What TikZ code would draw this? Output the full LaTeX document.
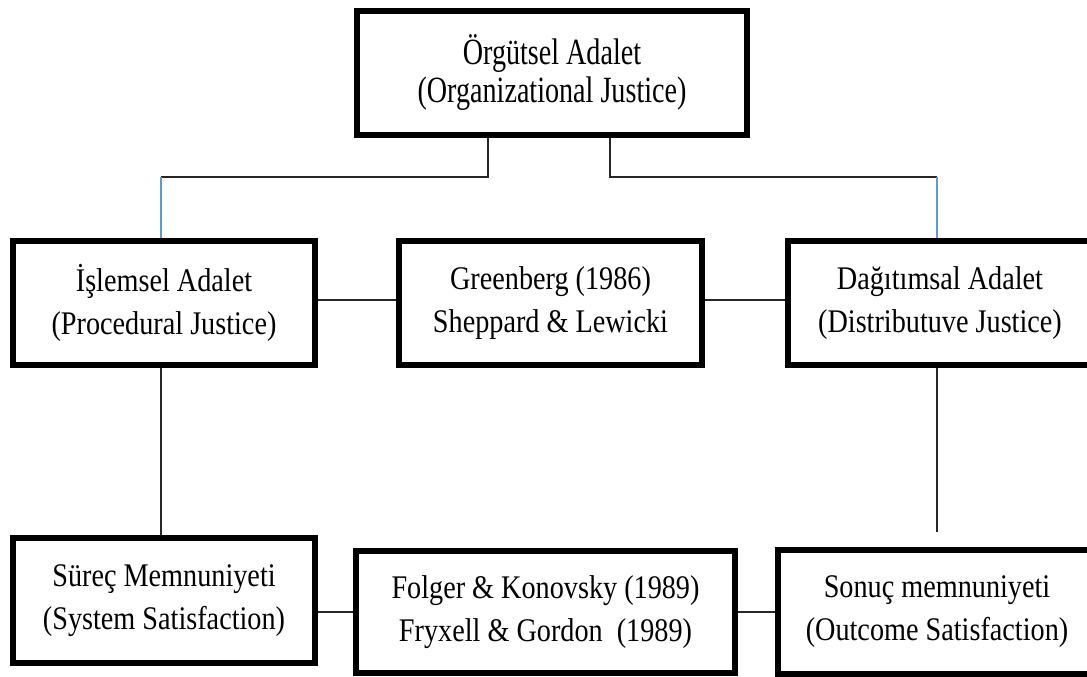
\documentclass[tikz,border=0pt]{standalone}
\usepackage{fontspec}
\setmainfont{Liberation Serif}[FakeStretch=0.855]
\newfontfamily\topboxfont{Liberation Serif}[FakeStretch=0.76]
\usetikzlibrary{calc}
\definecolor{lineblue}{RGB}{91,155,213}
\tikzset{
  box/.style={draw=black, line width=6pt, fill=white, align=center, inner sep=0pt,
    font=\fontsize{33}{43}\selectfont},
  topbox/.style={box, font=\topboxfont\fontsize{37}{38}\selectfont},
  conn/.style={draw=black!85, line width=1.6pt},
  blueconn/.style={draw=lineblue, line width=1.4pt},
}
\begin{document}
\begin{tikzpicture}[x=1pt,y=-1pt]
\useasboundingbox (0,0) rectangle (1087,677);
% boxes
\node[topbox, minimum width=390pt, minimum height=124pt] (top) at (552,73) {Örgütsel Adalet\\(Organizational Justice)};
\node[box, minimum width=302pt, minimum height=124pt] (isl) at (164,303) {İşlemsel Adalet\\(Procedural Justice)};
\node[box, minimum width=303pt, minimum height=124pt] (gr) at (550.5,303) {Greenberg (1986)\\Sheppard \& Lewicki};
\node[box, minimum width=304pt, minimum height=124pt] (dag) at (940,303) {Dağıtımsal Adalet\\(Distributuve Justice)};
\node[box, minimum width=302pt, minimum height=125pt] (sur) at (164,600.5) {Süreç Memnuniyeti\\(System Satisfaction)};
\node[box, minimum width=379pt, minimum height=122pt] (fol) at (545.5,612) {Folger \& Konovsky (1989)\\Fryxell \& Gordon\ \ (1989)};
\node[box, minimum width=318pt, minimum height=124pt] (son) at (937,612) {Sonuç memnuniyeti\\(Outcome Satisfaction)};
% junctions
\coordinate (jl) at (161,177);
\coordinate (jr) at (937,177);
\coordinate (jrb) at (937,532);
% connectors
\draw[conn] ([xshift=-64pt]top.south) |- (jl);
\draw[blueconn] (jl) -- (isl.north -| jl);
\draw[conn] ([xshift=58pt]top.south) |- (jr);
\draw[blueconn] (jr) -- (dag.north -| jr);
\draw[conn] ([yshift=3pt]isl.east) -- ([yshift=3pt]gr.west);
\draw[conn] ([yshift=3pt]gr.east) -- ([yshift=3pt]dag.west);
\draw[conn] (isl.south -| jl) -- (sur.north -| jl);
\draw[conn] (dag.south -| jr) -- (jrb);
\draw[conn] (sur.east |- fol.west) -- (fol.west);
\draw[conn] (fol.east) -- (son.west);
\end{tikzpicture}
\end{document}
